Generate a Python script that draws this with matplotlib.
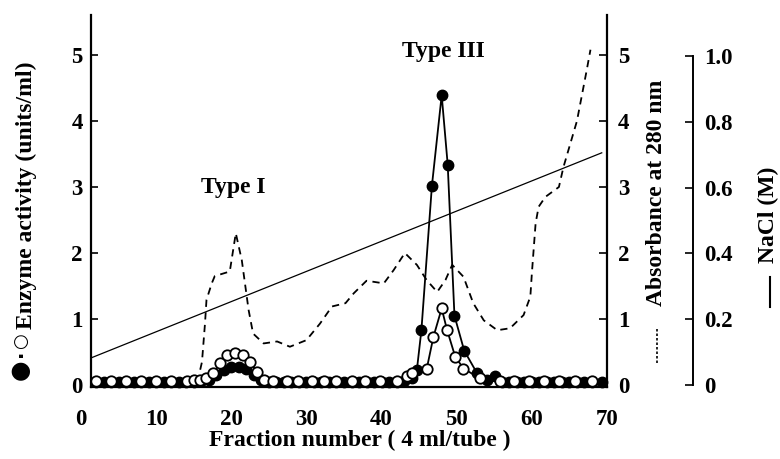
import matplotlib
matplotlib.use("Agg")
import matplotlib.pyplot as plt
from matplotlib.lines import Line2D

# ---------------- data ----------------
# Enzyme activity (filled circles)
filled_x = [2, 3, 4, 5, 6, 7, 8, 9, 10, 11, 12, 13, 14, 15, 16, 17, 18, 19, 20, 21, 22, 23, 24,
            25, 26, 27, 28, 29, 30, 31, 32, 33, 34, 35, 36, 37, 38, 39, 40, 41, 42, 43, 44,
            44.7, 45.3, 46.7, 48.0, 48.8, 49.7, 51.0, 52.7, 54, 55.1, 56, 57, 58, 59, 60, 61,
            62, 63, 64, 65, 66, 67, 68, 69.3]
filled_y = [0.05, 0.05, 0.05, 0.05, 0.05, 0.05, 0.05, 0.05, 0.05, 0.05, 0.05, 0.05, 0.05, 0.05,
            0.06, 0.08, 0.15, 0.22, 0.27, 0.28, 0.24, 0.15, 0.07,
            0.05, 0.05, 0.05, 0.05, 0.05, 0.05, 0.05, 0.05, 0.05, 0.05, 0.05, 0.05, 0.05, 0.05,
            0.05, 0.05, 0.05, 0.05, 0.06, 0.10,
            0.23, 0.83, 3.02, 4.39, 3.34, 1.05, 0.52, 0.18, 0.08, 0.13, 0.05, 0.05, 0.05, 0.05,
            0.05, 0.05, 0.05, 0.05, 0.05, 0.05, 0.05, 0.05, 0.05, 0.05]

# Enzyme activity (open circles)
open_x = [2, 4, 6, 8, 10, 12, 14.1, 15.0, 15.8, 16.7, 17.6, 18.5, 19.4, 20.5, 21.6, 22.5, 23.4,
          24.3, 25.6, 27.4, 28.9, 30.7, 32.3, 34.0, 36.0, 37.8, 39.8, 42.0, 43.4, 44.0,
          46.0, 46.9, 48.0, 48.7, 49.8, 50.9, 53.1, 55.8, 57.6, 59.6, 61.6, 63.6, 65.8, 68.0]
open_y = [0.06, 0.06, 0.06, 0.06, 0.06, 0.06, 0.06, 0.07, 0.08, 0.10, 0.18, 0.33, 0.45, 0.48,
          0.45, 0.35, 0.20, 0.08, 0.06, 0.06, 0.06, 0.06, 0.06, 0.06, 0.06, 0.06, 0.06, 0.06,
          0.13, 0.18, 0.24, 0.73, 1.16, 0.84, 0.43, 0.25, 0.10, 0.06, 0.06, 0.06, 0.06, 0.06,
          0.06, 0.06]

# Absorbance at 280 nm (dashed)
abs_x = [2, 15.5, 16.1, 16.5, 16.7, 17.4, 17.8, 19.8, 20.6, 21.4, 22.3, 22.9, 24.3, 26.1, 27.8,
         30.0, 31.8, 33.4, 35.2, 36.3, 38.0, 40.3, 41.6, 43.1, 44.7, 46.0, 47.4, 48.5, 49.4,
         50.9, 52.2, 53.6, 55.4, 57.1, 58.9, 59.8, 60.0, 60.5, 60.9, 61.8, 63.6, 64.2, 66.0,
         67.3, 67.8]
abs_y = [0.05, 0.05, 0.35, 0.93, 1.29, 1.54, 1.65, 1.72, 2.30, 1.89, 1.14, 0.78, 0.63, 0.66, 0.58,
         0.68, 0.93, 1.19, 1.24, 1.39, 1.58, 1.54, 1.74, 2.00, 1.82, 1.59, 1.41, 1.59, 1.82,
         1.64, 1.24, 0.98, 0.83, 0.86, 1.06, 1.34, 1.69, 2.45, 2.70, 2.85, 3.00, 3.30, 4.00,
         4.77, 5.08]

# NaCl gradient (solid)
nacl_x = [1.4, 69.3]
nacl_y = [0.083, 0.706]

x_ticks = [0, 10, 20, 30, 40, 50, 60, 70]
left_ticks = [0, 1, 2, 3, 4, 5]
abs_ticks = [0, 1, 2, 3, 4, 5]
nacl_ticks = [0, 0.2, 0.4, 0.6, 0.8, 1.0]
nacl_ticklabels = ["0", "0.2", "0.4", "0.6", "0.8", "1.0"]

# ---------------- style ----------------
SERIF = ["Liberation Serif", "DejaVu Serif"]
plt.rcParams["font.family"] = SERIF
plt.rcParams["font.weight"] = "bold"
TICK_FS = 16.5
LABEL_FS = 17

W, H = 780, 459
fig = plt.figure(figsize=(W / 100, H / 100), dpi=100)
x0, x1, ytop, ybot = 81, 607, 15, 387
ax = fig.add_axes([x0 / W, (H - ybot) / H, (x1 - x0) / W, (ybot - ytop) / H])

LEFT_DATA = 1.35
ax.set_xlim(0, 70)
ax.set_ylim(-0.03, 5.606)

ax.spines["top"].set_visible(False)
ax.spines["left"].set_position(("data", LEFT_DATA))
ax.spines["bottom"].set_bounds(LEFT_DATA, 70)
for s in ("left", "bottom", "right"):
    ax.spines[s].set_linewidth(1.6)
ax.spines["right"].set_visible(False)

ax.set_xticks(x_ticks)
ax.set_xticklabels([str(t) for t in x_ticks])
ax.set_yticks(left_ticks)
ax.set_yticklabels([str(t) for t in left_ticks])
ax.tick_params(axis="x", length=0, pad=16, labelsize=TICK_FS)
ax.tick_params(axis="y", direction="in", length=5, width=1.2, pad=6, labelsize=TICK_FS)
for lab in ax.get_xticklabels() + ax.get_yticklabels():
    lab.set_fontweight("bold")

# absorbance axis
ax2 = ax.twinx()
ax2.set_ylim(-0.03, 5.606)
ax2.set_xlim(0, 70)
for s in ("top", "left", "bottom"):
    ax2.spines[s].set_visible(False)
ax2.spines["right"].set_linewidth(1.6)
ax2.set_yticks(abs_ticks)
ax2.set_yticklabels([str(t) for t in abs_ticks])
ax2.tick_params(axis="y", direction="in", length=6, width=1.2, pad=8, labelsize=TICK_FS)
for lab in ax2.get_yticklabels():
    lab.set_fontweight("bold")

# NaCl axis
ax3 = ax.twinx()
ax3.set_xlim(0, 70)
ax3.set_ylim(-0.006, 1.125)
for s in ("top", "left", "bottom"):
    ax3.spines[s].set_visible(False)
ax3.spines["right"].set_position(("axes", (693 - x0) / (x1 - x0)))
ax3.spines["right"].set_bounds(0, 1.0)
ax3.spines["right"].set_linewidth(1.4)
ax3.set_yticks(nacl_ticks)
ax3.set_yticklabels(nacl_ticklabels)
ax3.tick_params(axis="y", direction="in", length=6, width=1.2, pad=8, labelsize=TICK_FS)
for lab in ax3.get_yticklabels():
    lab.set_fontweight("bold")

# ---------------- marks ----------------
ax3.plot(nacl_x, nacl_y, color="black", lw=0.9, zorder=2)
ax2.plot(abs_x, abs_y, color="black", lw=1.3, dashes=(4, 3), zorder=2)

ax.set_zorder(ax3.get_zorder() + 1)
ax.patch.set_visible(False)
ax.plot(filled_x, filled_y, color="black", lw=1.3, marker="o", ms=7.5,
        mfc="black", mec="black", zorder=3, clip_on=False)
ax.plot(open_x, open_y, color="black", lw=1.3, marker="o", ms=7.5,
        mfc="white", mec="black", mew=1.3, zorder=4, clip_on=False)

# annotations
fig.text(233 / W, 1 - 188 / H, "Type I", ha="center", va="center", fontsize=17, fontweight="bold")
fig.text(443 / W, 1 - 52 / H, "Type III", ha="center", va="center", fontsize=17, fontweight="bold")

# axis labels
fig.text(360 / W, 1 - 440 / H, "Fraction number ( 4 ml/tube )", ha="center", va="center",
         fontsize=LABEL_FS, fontweight="bold")
SYM = ["DejaVu Sans"]
fig.text(20 / W, 1 - 370 / H, "\u25cf", rotation=90, ha="center", va="center",
         fontsize=17, family=SYM)
fig.text(22 / W, 1 - 353 / H, "\u00b7", rotation=90, ha="center", va="center",
         fontsize=14, fontweight="bold", family=SYM)
fig.text(21 / W, 1 - 341 / H, "\u25cb", rotation=90, ha="center", va="center",
         fontsize=13, family=SYM)
fig.text(26 / W, 1 - 195 / H, "Enzyme activity (units/ml)", rotation=90,
         ha="center", va="center", fontsize=LABEL_FS, fontweight="bold")
fig.text(657 / W, 1 - 193 / H, "Absorbance at 280 nm", rotation=90, ha="center", va="center",
         fontsize=LABEL_FS, fontweight="bold")
fig.add_artist(Line2D([657 / W, 657 / W], [1 - 363 / H, 1 - 327 / H], transform=fig.transFigure,
                      color="black", lw=1.2, dashes=(1.5, 1.2)))
fig.text(768 / W, 1 - 215 / H, "NaCl (M)", rotation=90, ha="center", va="center",
         fontsize=LABEL_FS, fontweight="bold")
fig.add_artist(Line2D([770 / W, 770 / W], [1 - 307 / H, 1 - 277 / H], transform=fig.transFigure,
                      color="black", lw=1.5))

fig.savefig("out.png", dpi=100)
